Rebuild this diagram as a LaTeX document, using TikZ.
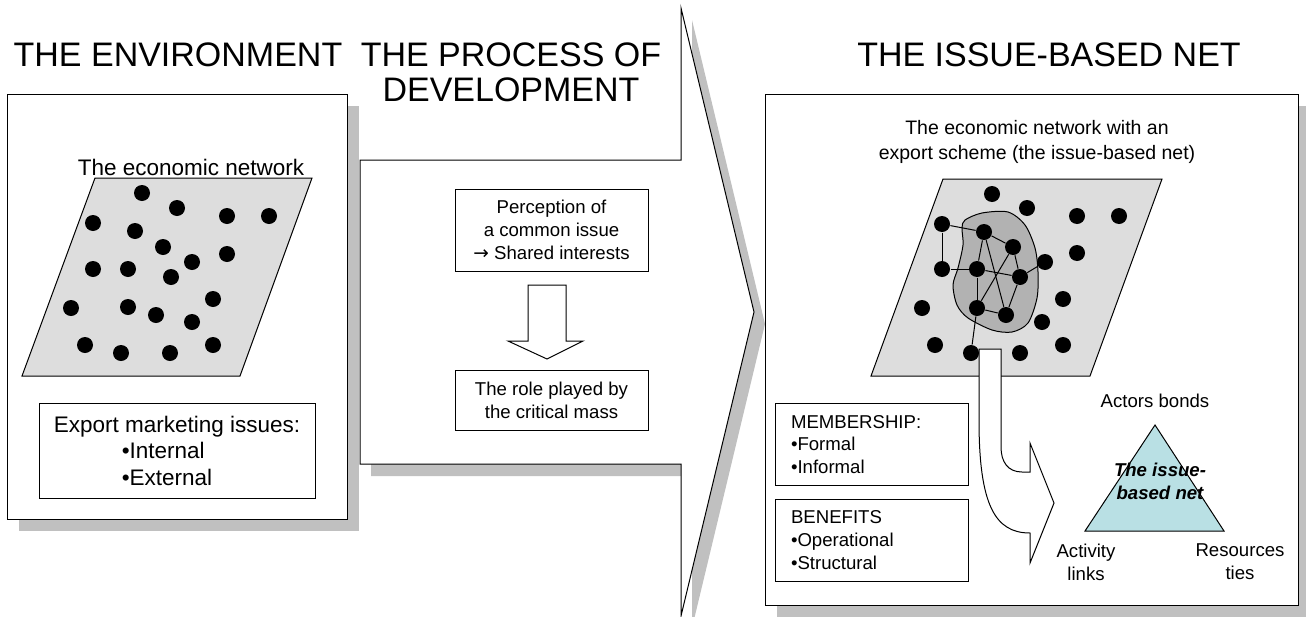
\documentclass[tikz,border=0pt]{standalone}
\usepackage{fontspec}
\setmainfont{Liberation Sans}
\newfontfamily\arrowfont{DejaVu Sans}
\usepackage{tikz}

\definecolor{shadowgrey}{RGB}{192,192,192}
\definecolor{planegrey}{RGB}{221,221,221}
\definecolor{blobgrey}{RGB}{178,178,178}
\definecolor{triblue}{RGB}{185,224,228}

\newcommand{\ttlfont}{\fontsize{34}{35}\selectfont}
\newcommand{\econfont}{\fontsize{22.5}{26.5}\selectfont}
\newcommand{\netfont}{\fontsize{19.5}{25}\selectfont}
\newcommand{\txtfont}{\fontsize{18.6}{22.8}\selectfont}

\begin{document}
\begin{tikzpicture}[x=1pt,y=-1pt,line width=1pt,
    shade/.style={fill=shadowgrey,draw=none},
    panel/.style={draw,fill=white},
    plane/.style={draw,fill=planegrey},
    dot/.style={circle,fill=black,inner sep=0pt,minimum size=16pt},
    lbl/.style={inner sep=0pt,align=center,font=\txtfont},
    box/.style={draw,fill=white,inner sep=0pt,align=center,font=\txtfont},
    listbox/.style={draw,fill=white,inner xsep=16pt,inner ysep=0pt,align=left,
      text width=161pt,minimum height=82pt,font=\txtfont}]
  \useasboundingbox (0,0) rectangle (1306,616);

  \fill[shade] (19,106) rectangle (359,531);
  \draw[panel] (7,94) rectangle (347,519);
  \fill[shade,shift={(11,12)}] (360,160) -- (681,160) -- (681,8) -- (754,312)
    -- (681,616) -- (681,464) -- (360,464) -- cycle;
  \draw[panel] (360,160) -- (681,160) -- (681,8) -- (754,312)
    -- (681,616) -- (681,464) -- (360,464) -- cycle;
  \fill[shade] (777,106) rectangle (1310,617);
  \draw[panel] (765,94) rectangle (1298,605);

  \node[inner sep=0pt,font=\ttlfont] (ttlEnv) at (178,55) {THE ENVIRONMENT};
  \node[inner sep=0pt,align=center,font=\ttlfont] (ttlProc) at (511,72) {THE PROCESS OF\\DEVELOPMENT};
  \node[inner sep=0pt,font=\ttlfont] (ttlNet) at (1049,55) {THE ISSUE-BASED NET};

  \draw[plane] (95,178) -- (312,178) -- (240,376) -- (22,376) -- cycle;
  \foreach \x/\y in {142/193,177/208,227/216,269/216,93/223,135/231,163/247,
      227/254,192/262,93/269,128/269,171/277,71/308,128/307,156/315,213/299,
      192/322,85/345,121/353,170/353,213/345}
    \fill (\x,\y) circle[radius=8pt];
  \node[inner sep=0pt,font=\econfont] (econLbl) at (191,167) {The economic network};
  \node[box,minimum width=276pt,minimum height=95pt,align=left,font=\econfont]
    (exportBox) at (177,450.5) {Export marketing issues:\\\hspace*{68pt}•Internal\\\hspace*{68pt}•External};

  \node[box,minimum width=193pt,minimum height=82pt] (percepBox) at (551.5,230)
    {Perception of\\a common issue\\{\arrowfont →} Shared interests};
  \draw[fill=white] (528,285) -- (566,285) -- (566,341) -- (583,341) -- (547,359)
    -- (508,341) -- (528,341) -- cycle;
  \node[box,minimum width=193pt,minimum height=60pt] (roleBox) at (551.5,400)
    {The role played by\\the critical mass};

  \node[inner sep=0pt,align=center,font=\netfont] (netLbl) at (1037,142)
    {The economic network with an\\export scheme (the issue-based net)};
  \draw[plane] (943,179) -- (1162,179) -- (1090,376) -- (871,376) -- cycle;
  \draw[fill=blobgrey] plot[smooth cycle] coordinates {(965,220) (982,213) (1008,212)
    (1025,225) (1035,248) (1038,272) (1037,298) (1028,323) (1012,332) (992,330)
    (968,318) (957,305) (953,285) (958,268) (963,245) (962,228)};
  \foreach \x/\y in {992/194,1027/208,1077/216,1119/216,1077/253,922/308,1063/299,
      1042/322,935/345,1020/353,1063/345}
    \fill (\x,\y) circle[radius=8pt];
  \foreach \n/\x/\y in {A/942/224,B/984/232,C/1013/247,D/1045/262,E/942/269,
      F/977/269,G/1020/277,H/977/308,I/1006/315,J/971/353}
    \node[dot] (m\n) at (\x,\y) {};
  \foreach \a/\b in {A/B,A/E,E/F,B/C,B/F,B/I,C/H,C/G,F/G,G/D,G/I,H/I,F/H,H/J}
    \draw (m\a) -- (m\b);

  \draw[fill=white] (979,349) -- (979,420) .. controls (979,505) and (995,533) .. (1030,533)
    -- (1030,563) -- (1054,503) -- (1030,443) -- (1030,472) -- (1022,472)
    .. controls (1008,472) and (1001,462) .. (1001,447) -- (1001,349) -- cycle;

  \node[listbox] (memberBox) at (871.5,444.5) {MEMBERSHIP:\\•Formal\\•Informal};
  \node[listbox] (benefitBox) at (871.5,540) {BENEFITS\\•Operational\\•Structural};

  \draw[fill=triblue] (1155,425) -- (1224,531) -- (1085,531) -- cycle;
  \node[lbl] (actorsLbl) at (1155,401) {Actors bonds};
  \node[lbl,font=\txtfont\bfseries\itshape] (issueLbl) at (1160,481) {The issue-\\based net};
  \node[lbl] (activityLbl) at (1086,562) {Activity\\links};
  \node[lbl] (resourcesLbl) at (1240,562) {Resources\\ties};
\end{tikzpicture}
\end{document}
